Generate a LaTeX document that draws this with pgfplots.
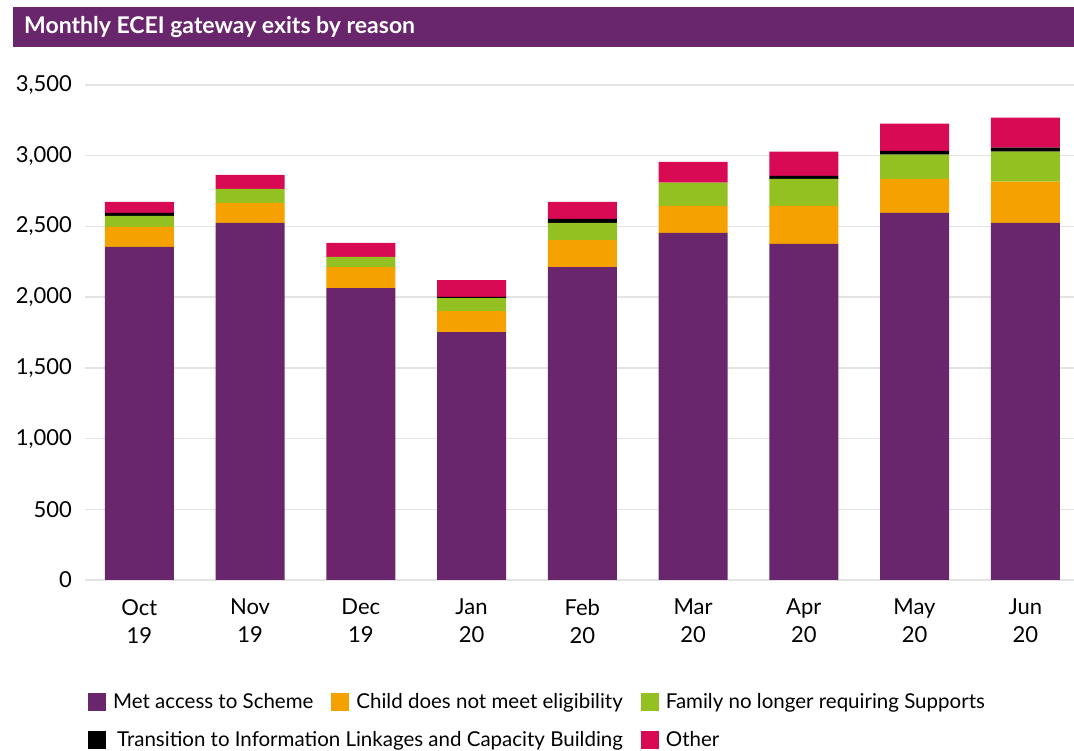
\documentclass[border=0pt]{standalone}
\usepackage{pgfplots}
\usepackage{pgfplotstable}
\pgfplotsset{compat=1.18}
\usepackage{fontspec}
\setmainfont{Lato}
\definecolor{cPurple}{HTML}{6A266D}
\definecolor{cOrange}{HTML}{F5A200}
\definecolor{cGreen}{HTML}{94C122}
\definecolor{cPink}{HTML}{D70A53}
\definecolor{cGrid}{HTML}{E3E3E3}
\pgfplotstableread{
x met child family trans other
0 2355 141 78 22 78
1 2525 142 99 0 99
2 2064 149 71 0 99
3 1752 149 92 8 120
4 2213 191 121 28 121
5 2454 191 164 0 148
6 2376 269 192 21 170
7 2596 241 170 28 192
8 2525 291 212 29 213
}\datatable
\pgfplotsset{
  sqlegend/.style={
    legend image code/.code={\draw[##1,draw=none] (0pt,-9pt) rectangle (18pt,9pt);},
  },
}
\begin{document}
\begin{tikzpicture}
% axis lower-left corner at (0,0); reference pixel (85,580)
\useasboundingbox (-85pt,580pt) rectangle (989pt,-171pt);
\fill[cPurple] (-72pt,573pt) rectangle (989pt,533pt);
\node[anchor=west, text=white, inner sep=0pt, font=\fontsize{23}{27}\selectfont\bfseries] at (-61pt,553pt) {Monthly ECEI gateway exits by reason};
\begin{axis}[
  at={(0pt,0pt)}, anchor=south west,
  scale only axis, width=989pt, height=495pt,
  ybar stacked, bar width=69pt,
  xmin=-0.49, xmax=8.44, ymin=0, ymax=3500,
  ytick={0,500,...,3500},
  xtick=data,
  xticklabels={{Oct\\19},{Nov\\19},{Dec\\19},{Jan\\20},{Feb\\20},{Mar\\20},{Apr\\20},{May\\20},{Jun\\20}},
  axis line style={draw=none},
  major tick length=0pt,
  ymajorgrids, major grid style={cGrid, line width=1.5pt},
  /pgf/number format/assume math mode=true,
  /pgf/number format/1000 sep={,},
  scaled y ticks=false,
  yticklabel style={anchor=east, inner sep=0pt, xshift=-13pt, font=\fontsize{22}{26}\selectfont},
  xticklabel style={anchor=north, align=center, inner sep=0pt, yshift=-19pt, font=\fontsize{22}{28}\selectfont},
  sqlegend,
  legend style={at={(0.003,-0.2465)}, anchor=west, draw=none, fill=none, inner sep=0pt,
    legend columns=-1, font=\fontsize{20.5}{24}\selectfont,
    /tikz/every odd column/.append style={column sep=5pt},
    /tikz/every even column/.append style={column sep=16pt}},
  legend cell align=left,
]
\addplot[fill=cPurple, draw=none] table[x=x,y=met]{\datatable};
\addlegendentry{Met access to Scheme}
\addplot[fill=cOrange, draw=none] table[x=x,y=child]{\datatable};
\addlegendentry{Child does not meet eligibility}
\addplot[fill=cGreen, draw=none] table[x=x,y=family]{\datatable};
\addlegendentry{Family no longer requiring Supports}
\addplot[fill=black, draw=none] table[x=x,y=trans]{\datatable};
\addplot[fill=cPink, draw=none] table[x=x,y=other]{\datatable};
\end{axis}
\begin{axis}[
  at={(0pt,0pt)}, anchor=south west,
  scale only axis, width=989pt, height=495pt,
  hide axis, xmin=0, xmax=1, ymin=0, ymax=1,
  sqlegend,
  legend style={at={(0.003,-0.323)}, anchor=west, draw=none, fill=none, inner sep=0pt,
    legend columns=-1, font=\fontsize{20.5}{24}\selectfont,
    /tikz/every odd column/.append style={column sep=5pt},
    /tikz/every even column/.append style={column sep=16pt}},
  legend cell align=left,
]
\addplot[draw=none, forget plot] coordinates {(0,0)};
\addlegendimage{fill=black}
\addlegendentry{\hspace{4pt}Transition to Information Linkages and Capacity Building}
\addlegendimage{fill=cPink}
\addlegendentry{Other}
\end{axis}
\end{tikzpicture}
\end{document}
